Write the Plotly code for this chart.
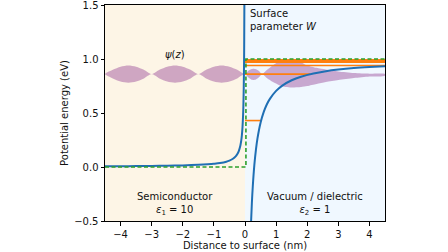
import plotly.graph_objects as go

# ---- data ----
# potential energy (blue), semiconductor side
z_left = [-4.5, -4, -3.5, -3, -2.5, -2, -1.5, -1.2, -1, -0.8, -0.6, -0.5, -0.4, -0.3,
          -0.25, -0.2, -0.15, -0.12, -0.1, -0.08, -0.06, -0.05, -0.04, -0.03, -0.025, -0.02]
v_left = [0.007, 0.0075, 0.0085, 0.01, 0.012, 0.015, 0.02, 0.025, 0.03, 0.037, 0.049, 0.059,
          0.074, 0.098, 0.118, 0.148, 0.197, 0.246, 0.295, 0.37, 0.49, 0.59, 0.74, 0.98, 1.18, 1.52]
# potential energy (blue), vacuum side
z_right = [0.195, 0.22, 0.25, 0.3, 0.35, 0.4, 0.5, 0.6, 0.7, 0.8, 1.0, 1.2, 1.5, 1.8, 2.2,
           2.6, 3.0, 3.5, 4.0, 4.5]
v_right = [-0.51, -0.34, -0.18, 0.017, 0.157, 0.263, 0.41, 0.508, 0.579, 0.631, 0.705, 0.754,
           0.803, 0.836, 0.866, 0.887, 0.902, 0.916, 0.926, 0.934]
# step potential (green dashed)
z_step = [-4.5, 0.03, 0.03, 4.5]
v_step = [0.0, 0.0, 1.0, 1.0]
# bound-state energy levels (orange) and their classical turning points
level_e = [0.43, 0.86, 0.94, 0.97, 0.978, 0.984, 0.989, 0.993]
level_end = [0.52, 2.1, 4.5, 4.5, 4.5, 4.5, 4.5, 4.5]
# wavefunction envelope (purple) around level E = 0.86
psi_level = 0.86
psi_z = [-4.5, -4.25, -4.0, -3.75, -3.5, -3.25, -3.0, -2.75, -2.5, -2.25, -2.0, -1.75, -1.5,
         -1.25, -1.0, -0.75, -0.5, -0.25, 0.0, 0.1, 0.2, 0.27, 0.35, 0.45, 0.55, 0.7, 0.9,
         1.1, 1.3, 1.5, 1.8, 2.0, 2.3, 2.6, 3.0, 3.5, 4.0, 4.5]
psi_up = [0, 0.04, 0.068, 0.079, 0.068, 0.04, 0, 0.04, 0.068, 0.079, 0.068, 0.04, 0,
          0.04, 0.068, 0.079, 0.068, 0.04, 0, 0.03, 0.045, 0.05, 0.045, 0.028, 0, 0.037, 0.083,
          0.116, 0.13, 0.13, 0.111, 0.08, 0.058, 0.042, 0.024, 0.01, 0.004, 0.001]
psi_dn = [0, 0.04, 0.068, 0.079, 0.068, 0.04, 0, 0.04, 0.068, 0.079, 0.068, 0.04, 0,
          0.04, 0.068, 0.079, 0.068, 0.04, 0, 0.03, 0.05, 0.055, 0.05, 0.03, 0, 0.037, 0.074,
          0.102, 0.12, 0.125, 0.12, 0.111, 0.092, 0.074, 0.055, 0.037, 0.023, 0.014]
x_ticks = [-4, -3, -2, -1, 0, 1, 2, 3, 4]
y_ticks = [-0.5, 0.0, 0.5, 1.0, 1.5]

BLUE = "#1f6fb4"
ORANGE = "#ff7f0e"
GREEN = "#2ca02c"
FONT = "DejaVu Sans"
TXT = "#111111"

fig = go.Figure()

# wavefunction fill
up = [psi_level + a for a in psi_up]
dn = [psi_level - a for a in psi_dn]
fig.add_trace(go.Scatter(
    x=psi_z + psi_z[::-1], y=up + dn[::-1], fill="toself", mode="lines",
    line=dict(width=0, shape="spline", smoothing=0.7),
    fillcolor="rgba(150,70,150,0.45)", hoverinfo="skip", showlegend=False))

# energy levels
for e, xe in zip(level_e, level_end):
    fig.add_trace(go.Scatter(x=[0.0, xe], y=[e, e], mode="lines",
                             line=dict(color=ORANGE, width=1.6), showlegend=False))

# potential curves
fig.add_trace(go.Scatter(x=z_left, y=v_left, mode="lines",
                         line=dict(color=BLUE, width=2, shape="spline"), showlegend=False))
fig.add_trace(go.Scatter(x=z_right, y=v_right, mode="lines",
                         line=dict(color=BLUE, width=2, shape="spline"), showlegend=False))
fig.add_trace(go.Scatter(x=z_step, y=v_step, mode="lines",
                         line=dict(color=GREEN, width=1.6, dash="4px,2.5px"), showlegend=False))

# background regions
fig.add_shape(type="rect", xref="x", yref="paper", x0=-4.5, x1=0, y0=0, y1=1,
              fillcolor="#fdf5e6", line_width=0, layer="below")
fig.add_shape(type="rect", xref="x", yref="paper", x0=0, x1=4.5, y0=0, y1=1,
              fillcolor="#f0f8ff", line_width=0, layer="below")

ann_font = dict(family=FONT, size=10, color=TXT)
fig.add_annotation(x=-2.25, y=1.045, text="<i>ψ</i>(<i>z</i>)", showarrow=False,
                   font=ann_font, xanchor="center", yanchor="middle")
fig.add_annotation(x=0.1, y=1.49, text="Surface<br>parameter <i>W</i>", showarrow=False,
                   font=ann_font, xanchor="left", yanchor="top", align="left")
fig.add_annotation(x=-2.25, y=-0.34, text="Semiconductor<br><i>ε</i><sub>1</sub> = 10",
                   showarrow=False, font=ann_font, xanchor="center", yanchor="middle",
                   align="center")
fig.add_annotation(x=2.25, y=-0.34, text="Vacuum / dielectric<br><i>ε</i><sub>2</sub> = 1",
                   showarrow=False, font=ann_font, xanchor="center", yanchor="middle",
                   align="center")

axis_common = dict(showgrid=False, zeroline=False, showline=True, linecolor="black",
                   linewidth=1, mirror=True, ticks="outside", ticklen=3.5, tickwidth=1,
                   tickcolor="black", automargin=False, ticklabeloverflow="allow",
                   tickfont=dict(family=FONT, size=10, color=TXT))
fig.update_xaxes(range=[-4.5, 4.5], tickvals=x_ticks,
                 title=dict(text="Distance to surface (nm)", standoff=3,
                            font=dict(family=FONT, size=10, color=TXT)),
                 **axis_common)
fig.update_yaxes(range=[-0.5, 1.5], tickvals=y_ticks, tickformat=".1f",
                 title=dict(text="Potential energy (eV)", standoff=3,
                            font=dict(family=FONT, size=10, color=TXT)),
                 **axis_common)
fig.update_layout(width=448, height=252, margin=dict(l=105, r=63, t=5, b=31),
                  plot_bgcolor="white", paper_bgcolor="white", showlegend=False)

fig.write_html("out.html", config={"displayModeBar": False},
               post_script="document.body.style.margin='0';document.body.style.overflow='hidden';")
